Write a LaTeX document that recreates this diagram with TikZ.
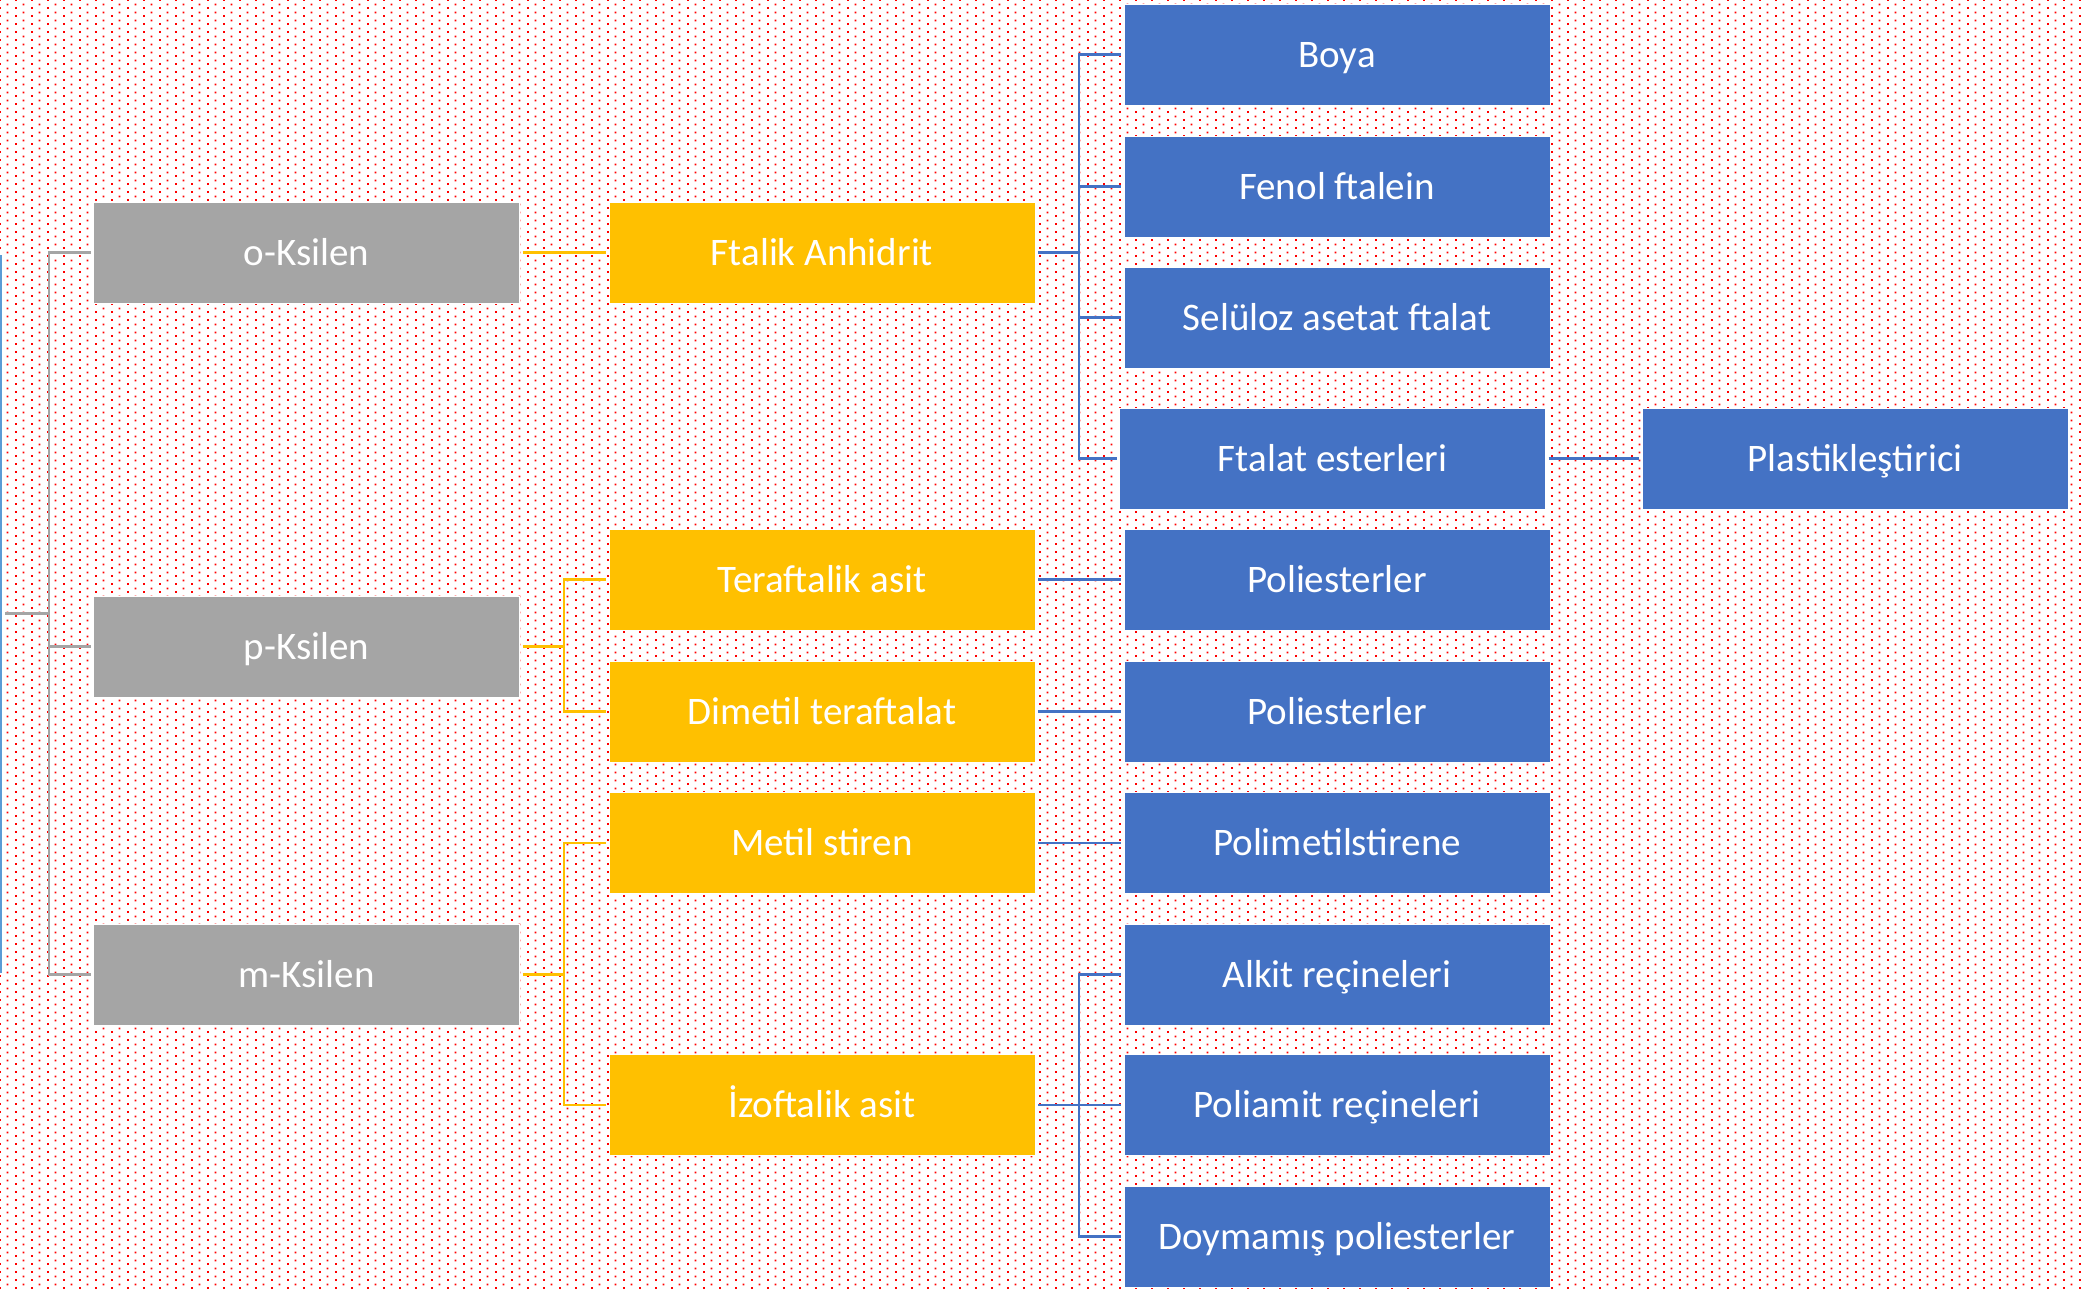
\documentclass[tikz,border=0pt]{standalone}
\usepackage{fontspec}
\setmainfont{Carlito}
\usetikzlibrary{calc}
\usetikzlibrary{patterns.meta}
\definecolor{xGray}{HTML}{A5A5A5}
\definecolor{xYellow}{HTML}{FFC000}
\definecolor{xBlue}{HTML}{4472C4}
\definecolor{xRoot}{HTML}{5B9BD5}
\definecolor{xDot}{HTML}{FF0000}
\newcommand{\lblfont}{\fontsize{39}{47}\selectfont}

\tikzdeclarepattern{
  name=reddots,
  type=colored,
  bottom left={(0pt,0pt)},
  top right={(16pt,8pt)},
  tile size={(16pt,8pt)},
  code={
    \fill[xDot] (0pt,0pt) rectangle (2pt,2pt);
    \fill[xDot] (8pt,4pt) rectangle (10pt,6pt);
  }
}

\tikzset{
  box/.style={minimum width=426pt, minimum height=101pt, inner sep=0pt, outer sep=3pt,
    text height=25pt, text depth=0pt,
    draw=white, line width=1pt, text=white, font=\lblfont},
  gbox/.style={box, fill=xGray},
  ybox/.style={box, fill=xYellow},
  bbox/.style={box, fill=xBlue},
  gline/.style={draw=xGray, line width=2.5pt},
  yline/.style={draw=xYellow, line width=2.5pt},
  bline/.style={draw=xBlue, line width=2.5pt},
}

\begin{document}
\begin{tikzpicture}[x=1pt, y=-1pt]
  \useasboundingbox (0,0) rectangle (2085,1288);
  \fill[white] (0,0) rectangle (2085,1288);
  \fill[pattern=reddots] (0,0) rectangle (2085,1288);

  % root, mostly off the page
  \node[fill=xRoot, draw=white, line width=1pt, minimum width=40pt, minimum height=719pt,
    inner sep=0pt, outer sep=3pt, anchor=east] (root) at (5,613.5) {};

  \node[gbox] (oks) at (306.5,252.5) {o-Ksilen};
  \node[gbox] (pks) at (306.5,646.5) {p-Ksilen};
  \node[gbox] (mks) at (306.5,974.5) {m-Ksilen};

  \node[ybox] (ftalik) at (822,252.5) {Ftalik Anhidrit};
  \node[ybox] (tera)   at (822,579.5) {Teraftalik asit};
  \node[ybox] (dmt)    at (822,711.5) {Dimetil teraftalat};
  \node[ybox] (metil)  at (822,843)   {Metil stiren};
  \node[ybox] (izo)    at (822,1105)  {İzoftalik asit};

  \node[bbox] (boya)    at (1337,54.5)    {Boya};
  \node[bbox] (fenol)   at (1337,186.5)   {Fenol ftalein};
  \node[bbox] (selul)   at (1337,317.5)   {Selüloz asetat ftalat};
  \node[bbox] (ftalat)  at (1332.5,458.5) {Ftalat esterleri};
  \node[bbox] (plastik) at (1855,458.5)   {Plastikleştirici};
  \node[bbox] (poli1)   at (1337,579.5)   {Poliesterler};
  \node[bbox] (poli2)   at (1337,711.5)   {Poliesterler};
  \node[bbox] (polim)   at (1337,843)     {Polimetilstirene};
  \node[bbox] (alkit)   at (1337,974.5)   {Alkit reçineleri};
  \node[bbox] (poliam)  at (1337,1105)    {Poliamit reçineleri};
  \node[bbox] (doym)    at (1337,1236.5)  {Doymamış poliesterler};

  % elbow points
  \coordinate (gj) at (49,613.5);
  \coordinate (pj) at (564,646.5);
  \coordinate (mj) at (564,974.5);
  \coordinate (fj) at (1079,252.5);
  \coordinate (ij) at (1079,1105);

  \draw[gline] (root.east) -- (gj);
  \draw[gline] (oks.west) -| (gj) |- (mks.west);
  \draw[gline] (gj |- pks.west) -- (pks.west);

  \draw[yline] (oks.east) -- (ftalik.west);
  \draw[yline] (pks.east) -- (pj);
  \draw[yline] (tera.west) -| (pj) |- (dmt.west);
  \draw[yline] (mks.east) -- (mj);
  \draw[yline] (metil.west) -| (mj) |- (izo.west);

  \draw[bline] (ftalik.east) -- (fj);
  \draw[bline] (boya.west) -| (fj) |- (ftalat.west);
  \draw[bline] (fj |- fenol.west) -- (fenol.west);
  \draw[bline] (fj |- selul.west) -- (selul.west);
  \draw[bline] (ftalat.east) -- (plastik.west);
  \draw[bline] (tera.east) -- (poli1.west);
  \draw[bline] (dmt.east) -- (poli2.west);
  \draw[bline] (metil.east) -- (polim.west);
  \draw[bline] (izo.east) -- (poliam.west);
  \draw[bline] (alkit.west) -| (ij) |- (doym.west);
\end{tikzpicture}
\end{document}
